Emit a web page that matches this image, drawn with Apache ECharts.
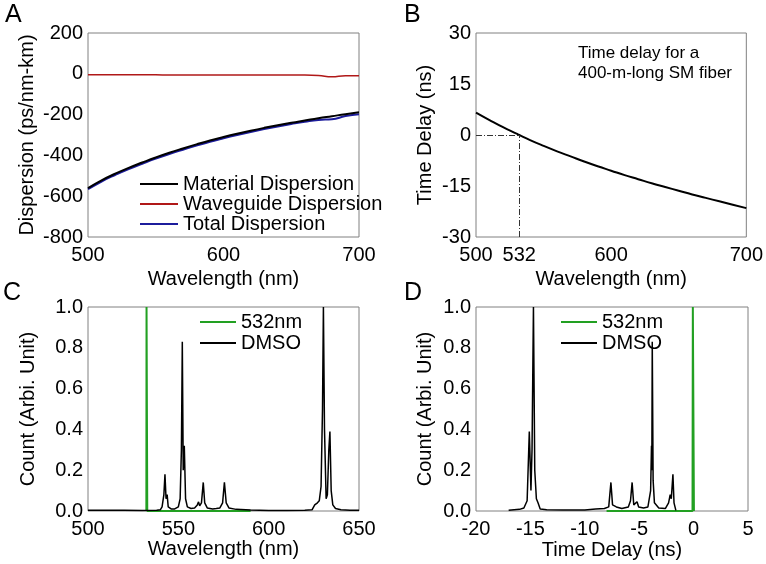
<!DOCTYPE html>
<html>
<head>
<meta charset="utf-8">
<script src="https://cdn.jsdelivr.net/npm/echarts@6/dist/echarts.min.js"></script>
<style>
  html, body { margin: 0; padding: 0; background: #fff; }
  #chart { width: 766px; height: 564px; }
</style>
</head>
<body>
<div id="chart"></div>
<script>
// Panel A: dispersion vs wavelength
const wavelengths = [500, 510, 520, 530, 540, 550, 560, 570, 580, 590, 600, 610, 620, 630, 640, 650, 660, 670, 680, 690, 700];
const materialDisp = [-560, -522, -490, -461, -435, -410, -387, -366, -346, -327, -310, -294, -279, -265, -252, -240, -229, -218, -208, -198, -189];
const waveguideDisp = [-5, -5, -5, -5, -5, -5, -6, -6, -6, -6, -6, -6, -6, -6, -6, -6, -6, -8, -15, -9, -9];
const totalDisp = [-566, -528, -496, -467, -441, -416, -393, -372, -352, -333, -316, -300, -285, -271, -258, -246, -235, -226, -223, -207, -198];

// Panel B: time delay for 400 m fiber
const delayWl = [500, 510, 520, 530, 532, 540, 550, 560, 570, 580, 590, 600, 610, 620, 630, 640, 650, 660, 670, 680, 690, 700];
const delayNs = [6.6, 4.4, 2.3, 0.4, 0, -1.5, -3.2, -4.8, -6.3, -7.8, -9.2, -10.5, -11.8, -13.0, -14.2, -15.3, -16.4, -17.5, -18.5, -19.5, -20.5, -21.5];
const refWl = 532;
const refDelay = 0;
const bTicks = [500, 532, 600, 700];

// Panel C: spectra vs wavelength
const laserC = [[532.3, 0], [532.4, 1.0], [532.7, 1.0], [532.8, 0], [590, 0]];
const dmsoC = [[500, 0.004], [520, 0.004], [530, 0.003], [538, 0.004], [540, 0.006], [541, 0.02], [542, 0.08], [542.6, 0.18], [543.2, 0.06], [543.8, 0.08], [544.4, 0.02], [546, 0.01], [548, 0.01], [550, 0.02], [551, 0.06], [551.7, 0.3], [552.2, 0.83], [552.7, 0.2], [553.3, 0.32], [554, 0.06], [555, 0.02], [557, 0.012], [559, 0.015], [560.5, 0.03], [561.2, 0.045], [561.8, 0.025], [562.8, 0.04], [563.8, 0.14], [564.6, 0.04], [566, 0.015], [569, 0.01], [571, 0.012], [572, 0.02], [573, 0.015], [574.5, 0.04], [575.5, 0.14], [576.5, 0.04], [578, 0.015], [582, 0.008], [590, 0.005], [600, 0.003], [610, 0.003], [620, 0.004], [624, 0.006], [625.5, 0.03], [627, 0.04], [628, 0.05], [629, 0.12], [629.8, 0.5], [630.3, 1.0], [630.9, 0.4], [631.8, 0.06], [632.5, 0.08], [633.3, 0.3], [633.9, 0.39], [634.6, 0.1], [635.5, 0.03], [637, 0.012], [640, 0.006], [645, 0.004], [650, 0.004]];

// Panel D: spectra vs time delay
const laserD = [[-8, 0], [-0.1, 0], [-0.07, 1.0], [0.0, 1.0], [0.03, 0]];
const dmsoD = [[-17, 0.004], [-16.5, 0.006], [-16, 0.008], [-15.6, 0.015], [-15.3, 0.05], [-15.1, 0.39], [-14.95, 0.1], [-14.85, 0.3], [-14.72, 1.0], [-14.6, 0.2], [-14.45, 0.06], [-14.3, 0.04], [-14.1, 0.01], [-13.5, 0.006], [-12, 0.005], [-10, 0.005], [-9, 0.01], [-8.2, 0.012], [-7.8, 0.02], [-7.6, 0.14], [-7.45, 0.03], [-7.1, 0.02], [-6.6, 0.012], [-6.0, 0.02], [-5.8, 0.05], [-5.65, 0.14], [-5.5, 0.03], [-5.2, 0.045], [-5.05, 0.02], [-4.6, 0.015], [-4.2, 0.02], [-3.95, 0.1], [-3.87, 0.32], [-3.84, 0.2], [-3.8, 0.83], [-3.72, 0.15], [-3.6, 0.04], [-3.2, 0.015], [-2.6, 0.012], [-2.3, 0.04], [-2.15, 0.08], [-2.05, 0.06], [-1.9, 0.18], [-1.8, 0.04], [-1.63, 0.003]];

const FONT = 'Liberation Sans, Arial, sans-serif';
const zip = (xs, ys) => xs.map((x, i) => [x, ys[i]]);

const chart = echarts.init(document.getElementById('chart'), null, { renderer: 'canvas' });

const gridBase = { show: true, borderColor: '#808080', borderWidth: 1, containLabel: false };
const labelStyle = { color: '#000', fontSize: 20, fontFamily: FONT };
const nameStyle = { color: '#000', fontSize: 20, fontFamily: FONT };

function xAx(idx, min, max, interval, name, gap, extra) {
  return Object.assign({
    gridIndex: idx, type: 'value', min: min, max: max, interval: interval,
    name: name, nameLocation: 'middle', nameGap: gap, nameTextStyle: nameStyle,
    axisLine: { show: false }, axisTick: { show: false }, splitLine: { show: false },
    axisLabel: Object.assign({ margin: 8 }, labelStyle)
  }, extra || {});
}
function yAx(idx, min, max, interval, name, gap, fmt) {
  return {
    gridIndex: idx, type: 'value', min: min, max: max, interval: interval,
    name: name, nameLocation: 'middle', nameGap: gap, nameTextStyle: nameStyle,
    axisLine: { show: false }, axisTick: { show: false }, splitLine: { show: false },
    axisLabel: Object.assign({ margin: 5, formatter: fmt }, labelStyle)
  };
}
function legendAt(left, top, w, names, gap) {
  return {
    left: left, top: top, orient: 'vertical', icon: 'rect',
    itemWidth: w, itemHeight: 2, itemGap: gap, data: names,
    textStyle: { color: '#000', fontSize: 20, fontFamily: FONT, lineHeight: 20 }
  };
}

const option = {
  animation: false,
  backgroundColor: '#fff',
  grid: [
    Object.assign({ left: 88, top: 33, width: 271, height: 204 }, gridBase),
    Object.assign({ left: 476, top: 33, width: 272, height: 204 }, gridBase),
    Object.assign({ left: 88, top: 307, width: 271, height: 204 }, gridBase),
    Object.assign({ left: 476, top: 307, width: 272, height: 204 }, gridBase)
  ],
  xAxis: [
    xAx(0, 500, 700, 100, 'Wavelength (nm)', 32),
    xAx(1, 500, 700, 100, 'Wavelength (nm)', 32, {
      axisLabel: Object.assign({ margin: 8, customValues: bTicks }, labelStyle)
    }),
    xAx(2, 500, 650, 50, 'Wavelength (nm)', 27),
    xAx(3, -20, 5, 5, 'Time Delay (ns)', 29)
  ],
  yAxis: [
    yAx(0, -800, 200, 200, 'Dispersion (ps/nm-km)', 51),
    yAx(1, -30, 30, 15, 'Time Delay (ns)', 41),
    yAx(2, 0, 1, 0.2, 'Count (Arbi. Unit)', 50, v => v.toFixed(1)),
    yAx(3, 0, 1, 0.2, 'Count (Arbi. Unit)', 41, v => v.toFixed(1))
  ],
  legend: [
    legendAt(135, 169, 38, ['Material Dispersion', 'Waveguide Dispersion', 'Total Dispersion'], 0),
    legendAt(195, 307, 36, ['532nm', 'DMSO'], 1),
    legendAt(556, 307, 36, ['532nm', 'DMSO'], 1)
  ],
  graphic: [
    { type: 'text', left: 5, top: 3, style: { text: 'A', fontSize: 25, fontFamily: FONT, fill: '#000' } },
    { type: 'text', left: 404, top: 3, style: { text: 'B', fontSize: 25, fontFamily: FONT, fill: '#000' } },
    { type: 'text', left: 3, top: 281, style: { text: 'C', fontSize: 25, fontFamily: FONT, fill: '#000' } },
    { type: 'text', left: 404, top: 281, style: { text: 'D', fontSize: 25, fontFamily: FONT, fill: '#000' } },
    { type: 'text', left: 578, top: 43, style: { text: 'Time delay for a\n400-m-long SM fiber', fontSize: 17, lineHeight: 20, fontFamily: FONT, fill: '#000' } }
  ],
  series: [
    { name: 'Total Dispersion', type: 'line', xAxisIndex: 0, yAxisIndex: 0, data: zip(wavelengths, totalDisp), showSymbol: false, smooth: true, lineStyle: { color: '#1c1c9c', width: 2 }, itemStyle: { color: '#1c1c9c' } },
    { name: 'Waveguide Dispersion', type: 'line', xAxisIndex: 0, yAxisIndex: 0, data: zip(wavelengths, waveguideDisp), showSymbol: false, smooth: true, lineStyle: { color: '#b01818', width: 1.5 }, itemStyle: { color: '#b01818' } },
    { name: 'Material Dispersion', type: 'line', xAxisIndex: 0, yAxisIndex: 0, data: zip(wavelengths, materialDisp), showSymbol: false, smooth: true, lineStyle: { color: '#000', width: 2 }, itemStyle: { color: '#000' } },
    {
      name: 'delay', type: 'line', xAxisIndex: 1, yAxisIndex: 1, data: zip(delayWl, delayNs), showSymbol: false, smooth: true,
      lineStyle: { color: '#000', width: 2 },
      markLine: {
        silent: true, symbol: 'none', label: { show: false },
        lineStyle: { color: '#333', width: 1, type: [6, 2, 1, 2] },
        data: [
          [{ coord: [500, refDelay] }, { coord: [refWl, refDelay] }],
          [{ coord: [refWl, -30] }, { coord: [refWl, refDelay] }]
        ]
      }
    },
    { name: '532nm', type: 'line', xAxisIndex: 2, yAxisIndex: 2, data: laserC, showSymbol: false, lineStyle: { color: '#22a022', width: 2 }, itemStyle: { color: '#22a022' } },
    { name: 'DMSO', type: 'line', xAxisIndex: 2, yAxisIndex: 2, data: dmsoC, showSymbol: false, lineStyle: { color: '#000', width: 1.5 }, itemStyle: { color: '#000' } },
    { name: '532nm', type: 'line', xAxisIndex: 3, yAxisIndex: 3, data: laserD, showSymbol: false, lineStyle: { color: '#22a022', width: 2 }, itemStyle: { color: '#22a022' } },
    { name: 'DMSO', type: 'line', xAxisIndex: 3, yAxisIndex: 3, data: dmsoD, showSymbol: false, lineStyle: { color: '#000', width: 1.5 }, itemStyle: { color: '#000' } }
  ]
};

chart.setOption(option);
</script>
</body>
</html>
